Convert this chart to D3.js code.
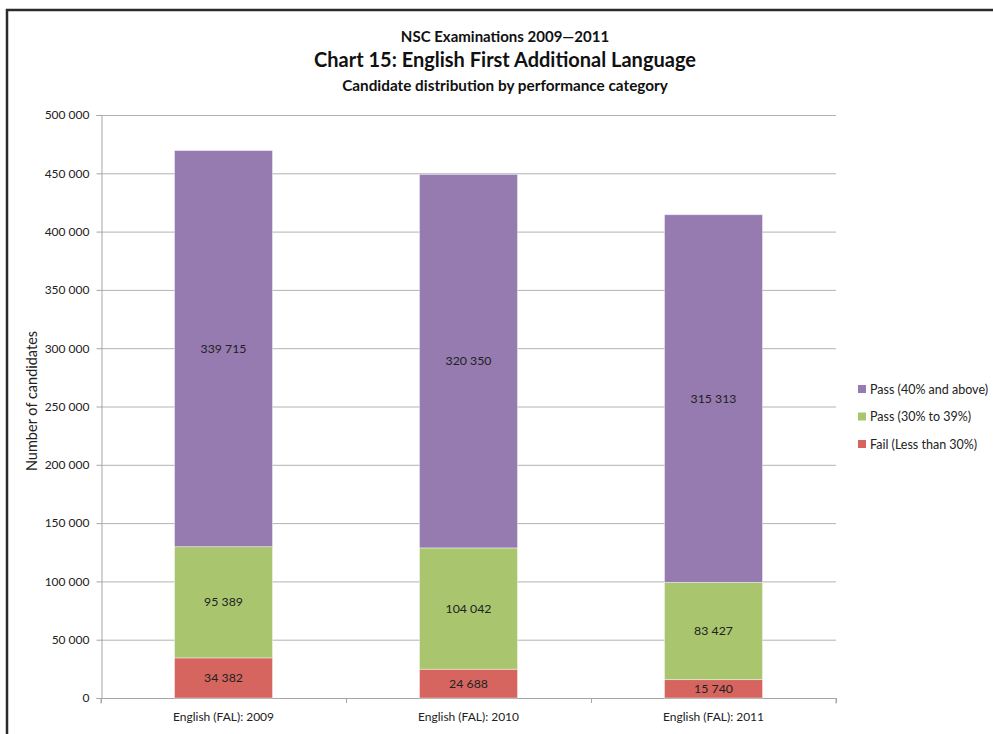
<!DOCTYPE html>
<html>
<head>
<meta charset="utf-8">
<script src="https://cdn.jsdelivr.net/npm/d3@7"></script>
<style>
  html, body { margin: 0; padding: 0; background: #fff; }
  svg { display: block; font-family: Lato, "Open Sans", sans-serif; }
</style>
</head>
<body>
<svg id="chart" width="993" height="734"></svg>
<script>
// Candidate counts per year, stacked bottom to top
const categories = ["English (FAL): 2009", "English (FAL): 2010", "English (FAL): 2011"];
const seriesNames = ["Fail (Less than 30%)", "Pass (30% to 39%)", "Pass (40% and above)"];
const failValues = [34382, 24688, 15740];
const pass30Values = [95389, 104042, 83427];
const pass40Values = [339715, 320350, 315313];
const yTicks = [0, 50000, 100000, 150000, 200000, 250000, 300000, 350000, 400000, 450000, 500000];
const colors = ["#d6655f", "#a9c66f", "#967bb1"];

const svg = d3.select("#chart");
const W = 993, H = 734;
const margin = { left: 101, right: 157, top: 115, bottom: 36 };

// frame border (left and top)
svg.append("path")
  .attr("d", `M7,${H} L7,10 L${W},10`)
  .attr("fill", "none").attr("stroke", "#2b2b2b").attr("stroke-width", 2.5);

// titles
const titles = [
  { text: "NSC Examinations 2009\u20142011", y: 42, size: 15 },
  { text: "Chart 15: English First Additional Language", y: 67, size: 20 },
  { text: "Candidate distribution by performance category", y: 91, size: 15.3 }
];
svg.selectAll("text.title").data(titles).join("text")
  .attr("class", "title")
  .attr("x", 505).attr("y", d => d.y)
  .attr("text-anchor", "middle")
  .attr("font-weight", "bold")
  .attr("font-size", d => d.size)
  .attr("fill", "#111")
  .text(d => d.text);

const x = d3.scaleBand().domain(categories).range([margin.left, W - margin.right]).paddingInner(0.6).paddingOuter(0.3);
const y = d3.scaleLinear().domain([0, 500000]).range([H - margin.bottom, margin.top]);

const fmt = v => d3.format(",")(v).replace(/,/g, " ");

// gridlines
svg.append("g").selectAll("line").data(yTicks.filter(t => t > 0)).join("line")
  .attr("x1", margin.left).attr("x2", W - margin.right)
  .attr("y1", d => y(d) + 0.5).attr("y2", d => y(d) + 0.5)
  .attr("stroke", "#b3b3b3").attr("stroke-width", 1);

// y axis
const yAxis = svg.append("g").attr("transform", `translate(${margin.left + 0.5},0)`)
  .call(d3.axisLeft(y).tickValues(yTicks).tickFormat(fmt).tickSize(5).tickPadding(7));
yAxis.select(".domain").attr("stroke", "#a6a6a6");
yAxis.selectAll(".tick line").attr("stroke", "#a6a6a6");
yAxis.selectAll(".tick text").attr("font-size", 12).attr("fill", "#222").attr("font-family", "Lato, sans-serif");

// x axis
const xAxis = svg.append("g").attr("transform", `translate(0,${H - margin.bottom + 0.5})`)
  .call(d3.axisBottom(x).tickSize(0).tickPadding(14));
xAxis.select(".domain").attr("stroke", "#a6a6a6").attr("d", `M${margin.left},5V0H${W - margin.right}V5`);
xAxis.selectAll(".tick text").attr("font-size", 12).attr("fill", "#222").attr("font-family", "Lato, sans-serif");
// category separators
const bounds = [margin.left, margin.left + (W - margin.left - margin.right) / 3, margin.left + 2 * (W - margin.left - margin.right) / 3, W - margin.right];
svg.append("g").selectAll("line").data(bounds).join("line")
  .attr("x1", d => d + 0.5).attr("x2", d => d + 0.5)
  .attr("y1", H - margin.bottom).attr("y2", H - margin.bottom + 5)
  .attr("stroke", "#a6a6a6");

// stacked data
const rows = categories.map((c, i) => ({ cat: c, s0: failValues[i], s1: pass30Values[i], s2: pass40Values[i] }));
const stack = d3.stack().keys(["s0", "s1", "s2"])(rows);

const layers = svg.append("g").selectAll("g").data(stack).join("g")
  .attr("fill", (d, i) => colors[i]);
layers.selectAll("rect").data(d => d).join("rect")
  .attr("x", d => x(d.data.cat))
  .attr("width", x.bandwidth())
  .attr("y", d => y(d[1]))
  .attr("height", d => y(d[0]) - y(d[1]))
  .attr("stroke", "#ffffff").attr("stroke-opacity", 0.5).attr("stroke-width", 0.8);

// value labels
layers.selectAll("text").data(d => d).join("text")
  .attr("x", d => x(d.data.cat) + x.bandwidth() / 2)
  .attr("y", d => (y(d[0]) + y(d[1])) / 2 + 4)
  .attr("text-anchor", "middle")
  .attr("font-size", 12.3).attr("fill", "#222")
  .text(d => fmt(d[1] - d[0]));

// y axis title
svg.append("text")
  .attr("transform", `translate(37,401) rotate(-90)`)
  .attr("text-anchor", "middle")
  .attr("font-size", 14.5).attr("fill", "#222")
  .text("Number of candidates");

// legend (top to bottom: highest series first)
const legendItems = [2, 1, 0];
const lg = svg.append("g").selectAll("g").data(legendItems).join("g")
  .attr("transform", (d, i) => `translate(858,${389 + i * 27.5})`);
lg.append("rect").attr("x", 0).attr("y", -4).attr("width", 8).attr("height", 8).attr("fill", d => colors[d]);
lg.append("text").attr("x", 12).attr("y", 4.5).attr("font-size", 12.5).attr("fill", "#222")
  .text(d => seriesNames[d]);
</script>
</body>
</html>
